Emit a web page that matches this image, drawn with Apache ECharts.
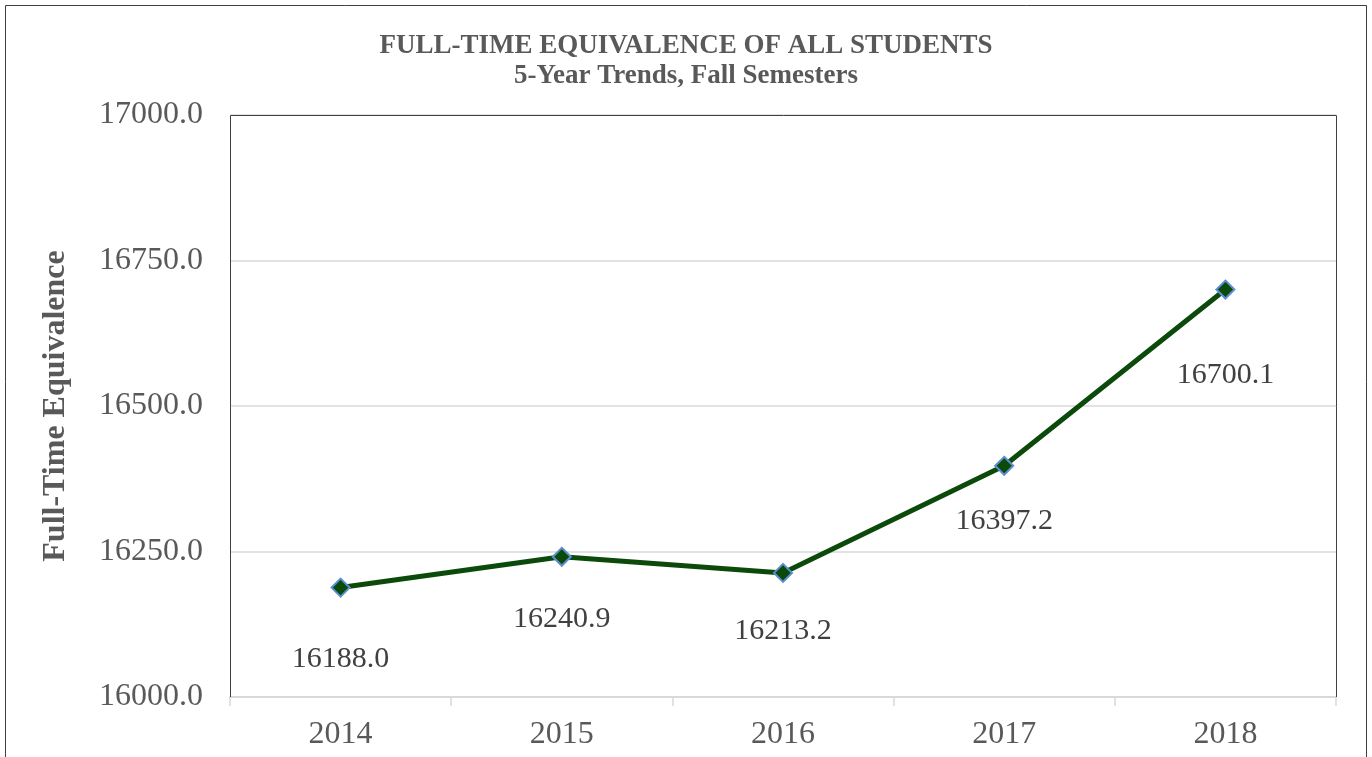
<!DOCTYPE html>
<html><head><meta charset="utf-8">
<script src="https://cdn.jsdelivr.net/npm/echarts@6/dist/echarts.min.js"></script>
<style>html,body{margin:0;padding:0;background:#fff}#c{width:1372px;height:757px}</style>
</head><body><div id="c"></div>
<script>
const categories = ['2014', '2015', '2016', '2017', '2018'];
const fteValues = [16188.0, 16240.9, 16213.2, 16397.2, 16700.1];
const labelGap = [47, 37, 33, 30, 61];
const titleLines = ['FULL-TIME EQUIVALENCE OF ALL STUDENTS', '5-Year Trends, Fall Semesters'];
const yAxisName = 'Full-Time Equivalence';

const chart = echarts.init(document.getElementById('c'), null, {renderer: 'canvas'});
const serif = '"Liberation Serif", "Times New Roman", serif';
const gridBox = {left: 230, right: 36, top: 115, bottom: 60};
chart.setOption({
  animation: false,
  backgroundColor: '#fff',
  title: {
    text: titleLines.join('\n'),
    left: 'center', top: 26,
    textStyle: {fontFamily: serif, fontSize: 27, fontWeight: 'bold', color: '#595959', lineHeight: 30}
  },
  grid: Object.assign({show: false, containLabel: false}, gridBox),
  xAxis: {
    type: 'category', data: categories, boundaryGap: true,
    axisLine: {show: true, lineStyle: {color: '#d9d9d9', width: 2}},
    axisTick: {show: true, length: 9, lineStyle: {color: '#d9d9d9', width: 1.5}},
    axisLabel: {fontFamily: serif, fontSize: 32, color: '#595959', margin: 22}
  },
  yAxis: {
    type: 'value', min: 16000, max: 17000, interval: 250,
    name: yAxisName, nameLocation: 'middle', nameGap: 158, nameRotate: 90,
    nameTextStyle: {fontFamily: serif, fontSize: 32, fontWeight: 'bold', color: '#595959'},
    axisLine: {show: false}, axisTick: {show: false},
    splitLine: {lineStyle: {color: '#d9d9d9', width: 1.5}},
    axisLabel: {fontFamily: serif, fontSize: 32, color: '#595959', margin: 27, formatter: v => v.toFixed(1)}
  },
  series: [{
    type: 'line',
    data: fteValues.map((v, i) => ({value: v, label: {distance: labelGap[i]}})),
    lineStyle: {color: '#0b4a0b', width: 5},
    symbol: 'diamond', symbolSize: 18,
    itemStyle: {color: '#0b4a0b', borderColor: '#5b8fd0', borderWidth: 2},
    label: {show: true, position: 'bottom', fontFamily: serif, fontSize: 30, color: '#404040', formatter: p => p.value.toFixed(1)}
  }]
});
const W = 1372, H = 757;
const x0 = gridBox.left + 0.5, x1 = W - gridBox.right + 0.5, y0 = gridBox.top + 0.5, y1 = H - gridBox.bottom;
chart.setOption({
  graphic: [
    {type: 'rect', shape: {x: 5.5, y: 5.5, width: 1361, height: 800}, style: {fill: 'none', stroke: '#404040', lineWidth: 1}, silent: true, z: 100},
    {type: 'polyline', shape: {points: [[x0, y1], [x0, y0], [x1, y0], [x1, y1]]}, style: {fill: 'none', stroke: '#404040', lineWidth: 1}, silent: true, z: 100}
  ]
});
</script></body></html>
